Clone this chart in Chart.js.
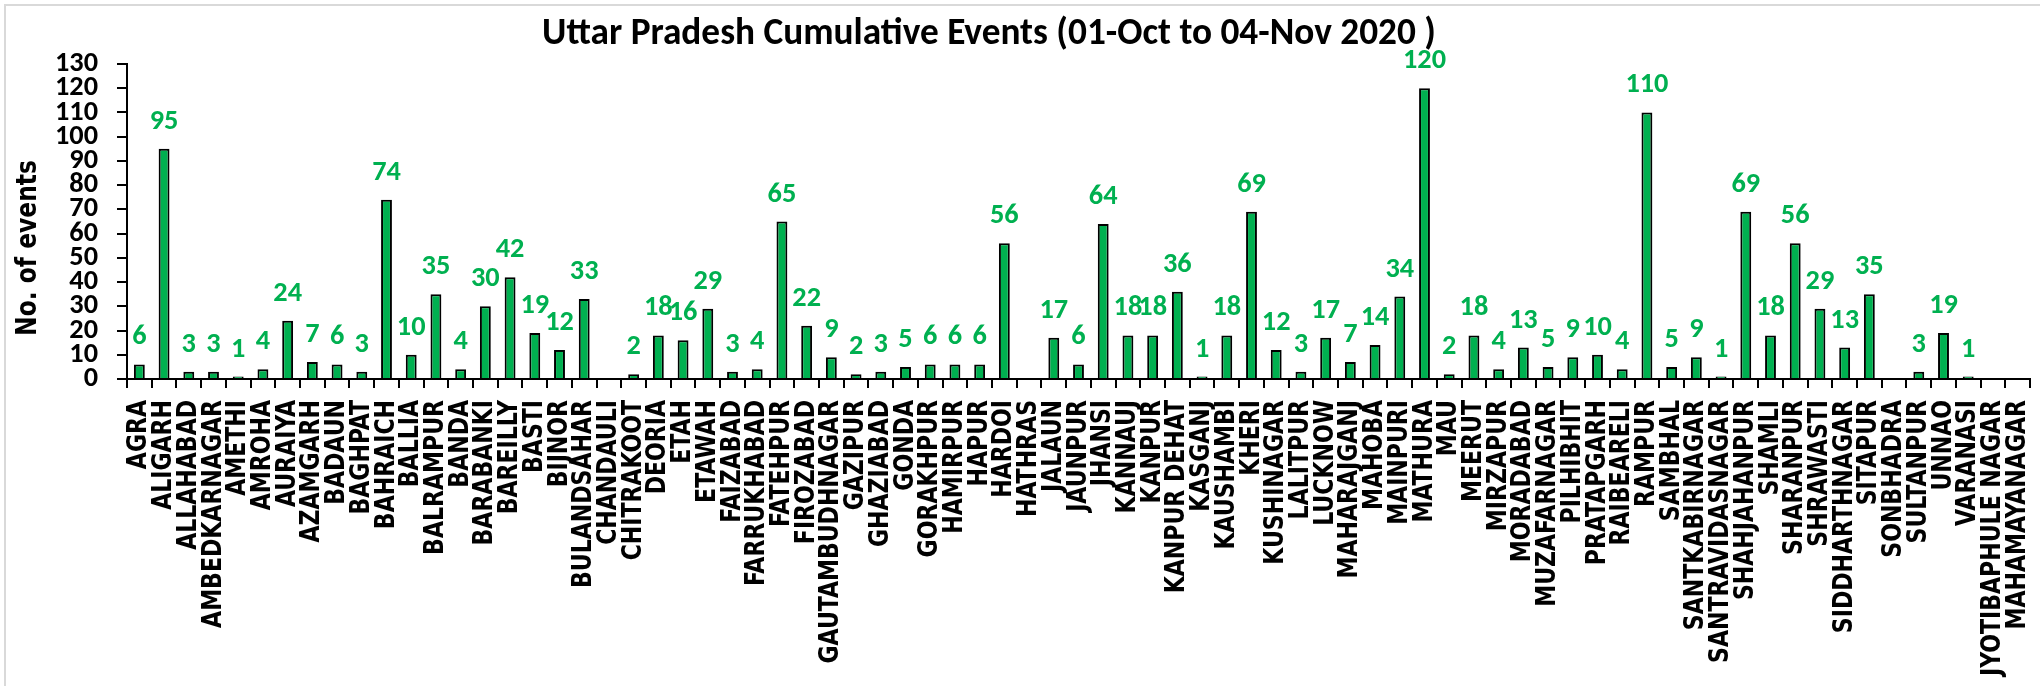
<!DOCTYPE html>
<html>
<head>
<meta charset="utf-8">
<title>Uttar Pradesh Cumulative Events</title>
<script src="https://cdn.jsdelivr.net/npm/chart.js@4/dist/chart.umd.min.js"></script>
<style>
  html, body { margin: 0; padding: 0; background: #fff; }
  #wrap { position: relative; width: 2040px; height: 686px; }
</style>
</head>
<body>
<div id="wrap"><canvas id="eventsChart" width="2040" height="686"></canvas></div>
<script>
// --- DADOS ---
const districts = [
    'AGRA', 'ALIGARH', 'ALLAHABAD', 'AMBEDKARNAGAR', 'AMETHI', 'AMROHA', 'AURAIYA', 'AZAMGARH',
    'BADAUN', 'BAGHPAT', 'BAHRAICH', 'BALLIA', 'BALRAMPUR', 'BANDA', 'BARABANKI', 'BAREILLY',
    'BASTI', 'BIJNOR', 'BULANDSAHAR', 'CHANDAULI', 'CHITRAKOOT', 'DEORIA', 'ETAH', 'ETAWAH',
    'FAIZABAD', 'FARRUKHABAD', 'FATEHPUR', 'FIROZABAD', 'GAUTAMBUDHNAGAR', 'GAZIPUR', 'GHAZIABAD',
    'GONDA', 'GORAKHPUR', 'HAMIRPUR', 'HAPUR', 'HARDOI', 'HATHRAS', 'JALAUN', 'JAUNPUR', 'JHANSI',
    'KANNAUJ', 'KANPUR', 'KANPUR DEHAT', 'KASGANJ', 'KAUSHAMBI', 'KHERI', 'KUSHINAGAR', 'LALITPUR',
    'LUCKNOW', 'MAHARAJGANJ', 'MAHOBA', 'MAINPURI', 'MATHURA', 'MAU', 'MEERUT', 'MIRZAPUR',
    'MORADABAD', 'MUZAFARNAGAR', 'PILHIBHIT', 'PRATAPGARH', 'RAIBEARELI', 'RAMPUR', 'SAMBHAL',
    'SANTKABIRNAGAR', 'SANTRAVIDASNAGAR', 'SHAHJAHANPUR', 'SHAMLI', 'SHARANPUR', 'SHRAWASTI',
    'SIDDHARTHNAGAR', 'SITAPUR', 'SONBHADRA', 'SULTANPUR', 'UNNAO', 'VARANASI',
    'JYOTIBAPHULE NAGAR', 'MAHAMAYANAGAR'
];
const events = [
    6, 95, 3, 3, 1, 4, 24, 7,
    6, 3, 74, 10, 35, 4, 30, 42,
    19, 12, 33, 0, 2, 18, 16, 29,
    3, 4, 65, 22, 9, 2, 3,
    5, 6, 6, 6, 56, 0, 17, 6, 64,
    18, 18, 36, 1, 18, 69, 12, 3,
    17, 7, 14, 34, 120, 2, 18, 4,
    13, 5, 9, 10, 4, 110, 5,
    9, 1, 69, 18, 56, 29,
    13, 35, 0, 3, 19, 1,
    0, 0
];
const yMin = 0;
const yMax = 130;
const yStep = 10;
const chartTitle = 'Uttar Pradesh Cumulative Events (01-Oct to 04-Nov 2020 )';
const yTitle = 'No. of events';

// --- ESTILO ---
const barGreen = '#00B050';
const numFont = 'Carlito, Calibri, Lato, sans-serif';
const labelFont = '"DejaVu Sans Condensed", Tahoma, "DejaVu Sans", sans-serif';
const stretchX = 1.12; // o texto vertical da imagem original e um pouco mais grosso

// tamanho da fonte para o texto ocupar a largura medida na imagem
const measureCtx = document.createElement('canvas').getContext('2d');
function fitSize(text, family, target) {
    measureCtx.font = `bold 100px ${family}`;
    return Math.round(100 * target / measureCtx.measureText(text).width * 10) / 10;
}
const titleSize = fitSize(chartTitle, numFont, 894);
const numSize = fitSize('130', numFont, 43);
const yTitleSize = fitSize(yTitle, labelFont, 176);
const xLabelSize = fitSize('AMBEDKARNAGAR', labelFont, 228);

function verticalText(ctx, text, x, y, align) {
    ctx.save();
    ctx.translate(x, y);
    ctx.scale(stretchX, 1);
    ctx.rotate(-Math.PI / 2);
    ctx.textAlign = align;
    ctx.textBaseline = 'middle';
    ctx.fillText(text, 0, 0);
    ctx.restore();
}

// Borda, titulo e textos dos eixos
const frameAndText = {
    id: 'frameAndText',
    beforeDraw(chart) {
        const ctx = chart.ctx;
        ctx.save();
        ctx.fillStyle = '#fff';
        ctx.fillRect(0, 0, chart.width, chart.height);
        ctx.strokeStyle = '#d9d9d9';
        ctx.lineWidth = 2;
        ctx.beginPath();
        ctx.moveTo(5, chart.height);
        ctx.lineTo(5, 5);
        ctx.lineTo(chart.width, 5);
        ctx.stroke();
        ctx.restore();
    },
    afterDraw(chart) {
        const ctx = chart.ctx;
        const xs = chart.scales.x;
        ctx.save();
        ctx.fillStyle = '#000';
        ctx.font = `bold ${titleSize}px ${numFont}`;
        ctx.textAlign = 'center';
        ctx.textBaseline = 'alphabetic';
        ctx.fillText(chartTitle, 989, 44);

        ctx.font = `bold ${yTitleSize}px ${labelFont}`;
        verticalText(ctx, yTitle, 28, 248, 'center');

        ctx.font = `bold ${xLabelSize}px ${labelFont}`;
        districts.forEach((name, i) => {
            verticalText(ctx, name, xs.getPixelForValue(i), xs.top + 21, 'right');
        });
        ctx.restore();
    }
};

// Numeros verdes em cima das barras
const valueLabels = {
    id: 'valueLabels',
    afterDatasetsDraw(chart) {
        const ctx = chart.ctx;
        const meta = chart.getDatasetMeta(0);
        ctx.save();
        ctx.font = `bold ${numSize}px ${numFont}`;
        ctx.fillStyle = barGreen;
        ctx.textAlign = 'center';
        ctx.textBaseline = 'alphabetic';
        meta.data.forEach((bar, i) => {
            const v = events[i];
            if (!v) return;
            ctx.fillText(String(v), bar.x, bar.y - 20);
        });
        ctx.restore();
    }
};

new Chart(document.getElementById('eventsChart'), {
    type: 'bar',
    data: {
        labels: districts,
        datasets: [{
            data: events,
            backgroundColor: barGreen,
            borderColor: '#000',
            borderWidth: 2,
            barPercentage: 0.44,
            categoryPercentage: 1.0
        }]
    },
    options: {
        responsive: false,
        devicePixelRatio: 1,
        animation: false,
        layout: { padding: { left: 0, top: 64, right: 10, bottom: 0 } },
        plugins: { legend: { display: false }, tooltip: { enabled: false } },
        scales: {
            x: {
                afterFit(scale) { scale.height = 686 - 64 - 315; },
                grid: { display: true, drawOnChartArea: false, drawTicks: true, tickLength: 9, color: '#000', lineWidth: 2, offset: true },
                border: { display: true, color: '#000', width: 2 },
                ticks: { display: false, autoSkip: false }
            },
            y: {
                min: yMin, max: yMax,
                afterFit(scale) { scale.width = 127; },
                grid: { display: true, drawOnChartArea: false, drawTicks: true, tickLength: 10, color: '#000', lineWidth: 2 },
                border: { display: true, color: '#000', width: 2 },
                ticks: {
                    stepSize: yStep, autoSkip: false, padding: 19, color: '#000',
                    font: { family: numFont, weight: 'bold', size: numSize }
                }
            }
        }
    },
    plugins: [frameAndText, valueLabels]
});
</script>
</body>
</html>
